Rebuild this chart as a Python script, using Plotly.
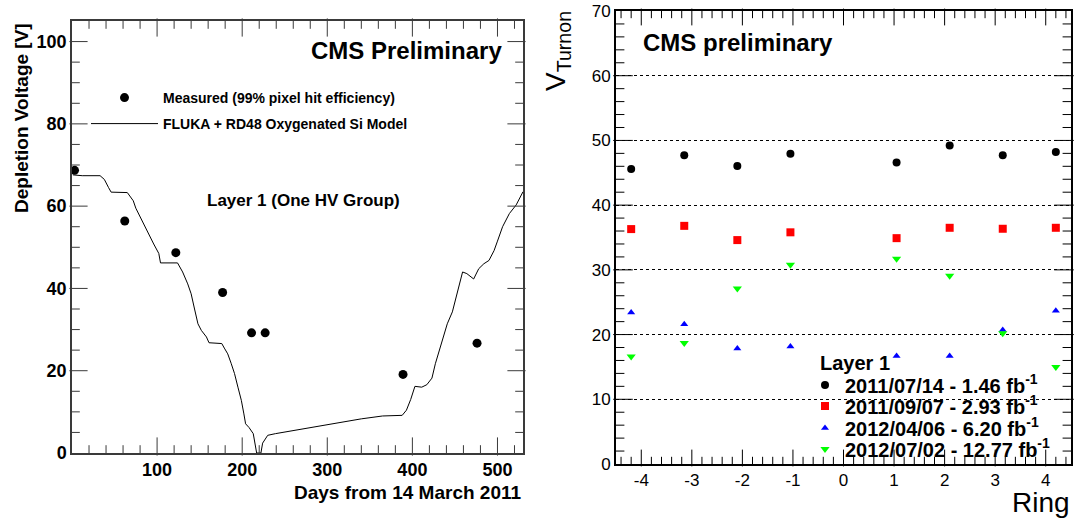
import numpy as np
import plotly.graph_objects as go

W, H = 1074, 518


def px(x):
    return x / W


def py(y):
    return 1 - y / H


FONT = "Liberation Sans"

# ---------------- Left panel data ----------------
days_measured = [3, 62, 122, 177, 211, 227, 389, 476]
vdep_measured = [68.7, 56.4, 48.7, 39.0, 29.2, 29.2, 19.1, 26.7]

model_days = [1, 12, 33, 38, 43, 46, 65, 68, 72, 75, 78, 84, 90, 96, 102, 104,
              124, 130, 136, 140, 144, 148, 152, 158, 161, 176, 179, 183, 187,
              191, 195, 199, 202, 204, 208, 213, 217, 222, 224, 227, 230, 239,
              270, 300, 340, 365, 388, 393, 398, 403, 411, 417, 423, 427, 434,
              441, 447, 453, 459, 464, 472, 478, 484, 490, 496, 500, 506, 514,
              522, 530]
model_vdep = [67.6, 67.4, 67.4, 66.5, 64.5, 63.4, 63.3, 62.5, 61.3, 59.5, 58.2,
              55.8, 53.4, 50.8, 48.5, 46.2, 46.2, 44.0, 41.1, 38.7, 35.0, 31.4,
              29.8, 28.2, 26.8, 26.6, 25.5, 24.1, 21.8, 19.3, 16.0, 12.8, 9.5,
              7.1, 6.2, 4.7, 0.0, 0.0, 2.4, 3.2, 4.3, 4.7, 5.8, 7.0, 8.3, 9.0,
              9.15, 10.4, 13.0, 16.2, 16.0, 16.6, 18.2, 21.7, 26.5, 31.4, 34.3,
              39.5, 44.0, 43.6, 42.3, 44.8, 46.0, 46.8, 49.2, 51.5, 55.0, 58.2,
              60.3, 63.5]

left_xticks = [100, 200, 300, 400, 500]
left_yticks = [0, 20, 40, 60, 80, 100]

# ---------------- Right panel data ----------------
ring_pos = [-4.2, -3.15, -2.1, -1.05, 1.05, 2.1, 3.15, 4.2]
v_20110714 = [45.6, 47.7, 46.05, 47.95, 46.6, 49.2, 47.7, 48.2]
v_20110907 = [36.3, 36.8, 34.6, 35.8, 34.9, 36.5, 36.35, 36.5]
v_20120406 = [23.4, 21.6, 17.85, 18.15, 16.7, 16.7, 20.7, 23.7]
v_20120702 = [16.6, 18.7, 27.1, 30.8, 31.7, 29.1, 20.2, 15.0]

series_names = ["2011/07/14 - 1.46 fb<sup>-1</sup>",
                "2011/09/07 - 2.93 fb<sup>-1</sup>",
                "2012/04/06 - 6.20 fb<sup>-1</sup>",
                "2012/07/02 - 12.77 fb<sup>-1</sup>"]
series_values = [v_20110714, v_20110907, v_20120406, v_20120702]
series_colors = ["black", "#ff0000", "#0000ff", "#00ff00"]
series_symbols = ["circle", "square", "triangle-up", "triangle-down"]
series_sizes = [8, 8, 7, 8]

right_xticks = [-4, -3, -2, -1, 0, 1, 2, 3, 4]
right_xticklabels = ["-4", "-3", "-2", "-1", "0", "1", "2", "3", "4"]
right_yticks = [0, 10, 20, 30, 40, 50, 60, 70]

# tick-mark positions (axis decoration)
left_x_major = list(range(100, 530, 100))
left_x_minor = [v for v in range(20, 530, 20) if v % 100]
left_y_major = list(range(20, 101, 20))
left_y_minor = [v for v in range(5, 105, 5) if v % 20]
right_x_major = list(range(-4, 5))
right_x_minor = [round(float(v), 1) for v in np.arange(-4.4, 4.41, 0.2)
                 if abs(v - round(v)) > 1e-6]
right_y_major = list(range(10, 70, 10))
right_y_minor = [v for v in range(2, 70, 2) if v % 10]

# ranges and panel geometry in pixels
L_XR, L_YR = [0, 530], [0, 105]
R_XR, R_YR = [-4.5, 4.5], [0, 70]
LX0, LX1, LY0, LY1 = 72, 523, 21, 453
RX0, RX1, RY0, RY1 = 616, 1071, 11, 464

fig = go.Figure()

# Left panel traces
fig.add_trace(go.Scatter(
    x=model_days, y=model_vdep, mode="lines",
    line=dict(color="black", width=1, shape="linear"),
    name="FLUKA + RD48 Oxygenated Si Model",
    xaxis="x", yaxis="y", legend="legend2"))
fig.add_trace(go.Scatter(
    x=days_measured, y=vdep_measured, mode="markers",
    marker=dict(color="black", size=9, symbol="circle"),
    name="Measured (99% pixel hit efficiency)",
    xaxis="x", yaxis="y", legend="legend"))

# Right panel traces
legend_ids = ["legend3", "legend4", "legend5", "legend6"]
for name, vals, col, sym, sz, lid in zip(series_names, series_values,
                                         series_colors, series_symbols,
                                         series_sizes, legend_ids):
    fig.add_trace(go.Scatter(
        x=ring_pos, y=vals, mode="markers",
        marker=dict(color=col, size=sz, symbol=sym, line=dict(width=0)),
        name=name, xaxis="x2", yaxis="y2", legend=lid))


# ---- tick marks (inside, on all four sides) as line-shaped markers ----
def add_ticks(xvals, yvals_unused, xr, yr, xlen_px, ylen_px, L, color,
              xa, ya, vertical):
    ux = (xr[1] - xr[0]) / xlen_px
    uy = (yr[1] - yr[0]) / ylen_px
    xs, ys = [], []
    for v in xvals:
        if vertical:
            xs += [v, v]
            ys += [yr[0] + L / 2 * uy, yr[1] - L / 2 * uy]
        else:
            xs += [xr[0] + L / 2 * ux, xr[1] - L / 2 * ux]
            ys += [v, v]
    fig.add_trace(go.Scatter(
        x=xs, y=ys, mode="markers", cliponaxis=False,
        marker=dict(symbol="line-ns" if vertical else "line-ew", size=L,
                    color=color, line=dict(color=color, width=1)),
        showlegend=False, hoverinfo="skip", xaxis=xa, yaxis=ya))


LC = "#3a3a3a"
LW, LH = LX1 - LX0, LY1 - LY0
RW, RH = RX1 - RX0, RY1 - RY0
add_ticks(left_x_major, None, L_XR, L_YR, LW, LH, 13, LC, "x", "y", True)
add_ticks(left_x_minor, None, L_XR, L_YR, LW, LH, 6.5, LC, "x", "y", True)
add_ticks(left_y_major, None, L_XR, L_YR, LW, LH, 13, LC, "x", "y", False)
add_ticks(left_y_minor, None, L_XR, L_YR, LW, LH, 6.5, LC, "x", "y", False)
add_ticks(right_x_major, None, R_XR, R_YR, RW, RH, 12, "black", "x2", "y2", True)
add_ticks(right_x_minor, None, R_XR, R_YR, RW, RH, 6, "black", "x2", "y2", True)
add_ticks(right_y_major, None, R_XR, R_YR, RW, RH, 14, "black", "x2", "y2", False)
add_ticks(right_y_minor, None, R_XR, R_YR, RW, RH, 7, "black", "x2", "y2", False)

left_axis_common = dict(
    showline=True, linecolor="#3a3a3a", linewidth=1.5, mirror=True,
    ticks="", showgrid=False, zeroline=False,
    tickfont=dict(family=FONT, size=18, color="black", weight="bold"),
)

right_axis_common = dict(
    showline=True, linecolor="black", linewidth=2, mirror=True,
    ticks="", zeroline=False,
    tickfont=dict(family=FONT, size=17, color="black"),
)

leg_font = dict(family=FONT, color="black", weight="bold")
leg_common = dict(xanchor="left", yanchor="middle",
                  bgcolor="rgba(0,0,0,0)", borderwidth=0)

fig.update_layout(
    template="none",
    width=W, height=H,
    margin=dict(l=0, r=0, t=0, b=0, autoexpand=False),
    paper_bgcolor="white", plot_bgcolor="white",
    xaxis=dict(domain=[px(LX0), px(LX1)], range=L_XR, anchor="y",
               tickvals=left_xticks, **left_axis_common),
    yaxis=dict(domain=[py(LY1), py(LY0)], range=L_YR, anchor="x",
               tickvals=left_yticks, **left_axis_common),
    xaxis2=dict(domain=[px(RX0), px(RX1)], range=R_XR, anchor="y2",
                tickvals=right_xticks, ticktext=right_xticklabels,
                showgrid=False, **right_axis_common),
    yaxis2=dict(domain=[py(RY1), py(RY0)], range=R_YR, anchor="x2",
                tickvals=right_yticks, showgrid=True, gridcolor="black",
                gridwidth=1, griddash="dot", **right_axis_common),
    legend=dict(x=px(86), y=py(98), itemwidth=67,
                font=dict(size=14, **leg_font), **leg_common),
    legend2=dict(x=px(86), y=py(124), itemwidth=67,
                 font=dict(size=14, **leg_font), **leg_common),
    legend3=dict(x=px(805), y=py(385), font=dict(size=20, **leg_font),
                 **leg_common),
    legend4=dict(x=px(805), y=py(406), font=dict(size=20, **leg_font),
                 **leg_common),
    legend5=dict(x=px(805), y=py(428), font=dict(size=20, **leg_font),
                 **leg_common),
    legend6=dict(x=px(805), y=py(449), font=dict(size=20, **leg_font),
                 **leg_common),
    showlegend=True,
)

annotations = [
    # Left panel texts
    dict(text="CMS Preliminary", x=px(504), y=py(50), xanchor="right",
         yanchor="middle", font=dict(family=FONT, size=24, color="black",
                                     weight="bold")),
    dict(text="Layer 1 (One HV Group)", x=px(303), y=py(200),
         xanchor="center", yanchor="middle",
         font=dict(family=FONT, size=17, color="black", weight="bold")),
    dict(text="Depletion Voltage [V]", x=px(21), y=py(21), textangle=-90,
         xanchor="center", yanchor="top",
         font=dict(family=FONT, size=19, color="black", weight="bold")),
    dict(text="Days from 14 March 2011", x=px(524), y=py(492),
         xanchor="right", yanchor="middle",
         font=dict(family=FONT, size=19, color="black", weight="bold")),
    # Right panel texts
    dict(text="CMS preliminary", x=px(641), y=py(43), xanchor="left",
         yanchor="middle", font=dict(family=FONT, size=24, color="black",
                                     weight="bold")),
    dict(text="V<sub>Turnon</sub>", x=px(558), y=py(9), textangle=-90,
         xanchor="center", yanchor="top",
         font=dict(family=FONT, size=28, color="black")),
    dict(text="Ring", x=px(1072), y=py(502), xanchor="right",
         yanchor="middle", font=dict(family=FONT, size=28, color="black")),
    dict(text="Layer 1", x=px(818), y=py(363), xanchor="left",
         yanchor="middle", font=dict(family=FONT, size=20, color="black",
                                     weight="bold")),
]
for a in annotations:
    a.update(xref="paper", yref="paper", showarrow=False)
fig.update_layout(annotations=annotations)

fig.write_html("out.html")
